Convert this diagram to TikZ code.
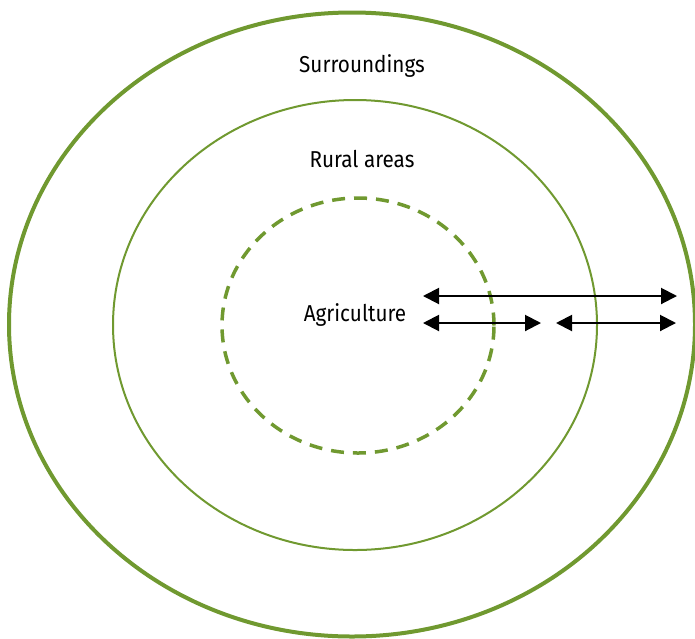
\documentclass[tikz,border=0pt]{standalone}
\usepackage{fontspec}
\setmainfont{Fira Sans}[FakeStretch=0.9]
\usetikzlibrary{shapes.geometric,arrows.meta}
\definecolor{leaf}{RGB}{112,153,48}
\tikzset{
  ring/.style={ellipse, draw=leaf, inner sep=0pt, outer sep=0pt},
  lbl/.style={font=\fontsize{23}{26}\selectfont, inner sep=0pt, anchor=base},
  dbl/.style={line width=2pt, {Triangle[length=16pt,width=16pt]}-{Triangle[length=16pt,width=16pt]}},
}
\begin{document}
\begin{tikzpicture}[x=1pt,y=-1pt]
\useasboundingbox (0,0) rectangle (695,638);
\node[ring, line width=4pt, minimum width=686pt, minimum height=624pt] (outer) at (352,324.5) {};
\node[ring, line width=2pt, minimum width=484pt, minimum height=450pt] (middle) at (355,325) {};
\node[ring, line width=3.5pt, dash pattern=on 13pt off 9pt, minimum width=272pt, minimum height=255pt] (inner) at (358,325.5) {};
\node[lbl] (sur) at (362,72) {Surroundings};
\node[lbl] (rur) at (362,167) {Rural areas};
\node[lbl] (agr) at (355,321) {Agriculture};
\coordinate (a1) at (423,296);
\coordinate (a2) at (677,296);
\coordinate (b1) at (423,323);
\coordinate (b2) at (541,323);
\coordinate (c1) at (556,323);
\coordinate (c2) at (676,323);
\draw[dbl] (a1) -- (a2);
\draw[dbl] (b1) -- (b2);
\draw[dbl] (c1) -- (c2);
\end{tikzpicture}
\end{document}
